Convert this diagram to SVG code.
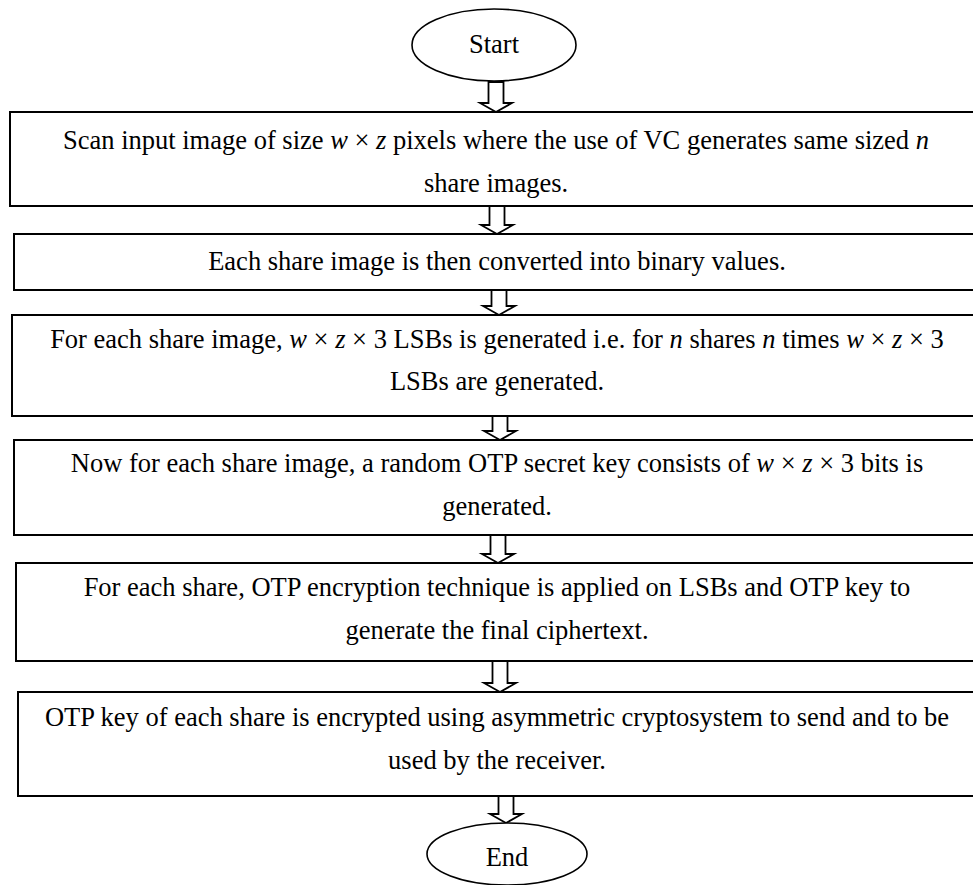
<svg xmlns="http://www.w3.org/2000/svg" width="973" height="885" viewBox="0 0 973 885">
  <style>
    .box { fill: #ffffff; stroke: #000000; stroke-width: 2; }
    .term { fill: #ffffff; stroke: #000000; stroke-width: 1.6; }
    .arrow { fill: #ffffff; stroke: #000000; stroke-width: 1.8; stroke-linejoin: miter; }
    text { font-family: "Liberation Serif", "Times New Roman", serif; font-size: 26.5px; fill: #000000; text-anchor: middle; }
    .i { font-style: italic; }
  </style>
  <rect width="973" height="885" fill="#ffffff"/>

  <!-- hollow block arrows between steps -->
  <g id="connectors">
    <path class="arrow" d="M488.5,82 V103 H480 L496,112 L512,103 H503.5 V82 Z"/>
    <path class="arrow" d="M489.5,206 V225 H481 L497,234 L513,225 H504.5 V206 Z"/>
    <path class="arrow" d="M491.5,290 V306 H483 L499,315 L515,306 H506.5 V290 Z"/>
    <path class="arrow" d="M492.5,416 V431 H484 L500,440 L516,431 H507.5 V416 Z"/>
    <path class="arrow" d="M490.5,535 V554 H482 L498,563 L514,554 H505.5 V535 Z"/>
    <path class="arrow" d="M492.5,661 V683 H484 L500,692 L516,683 H507.5 V661 Z"/>
    <path class="arrow" d="M498.5,796 V814 H490 L506,823 L522,814 H513.5 V796 Z"/>
  </g>

  <g id="start">
    <ellipse class="term" cx="494" cy="45" rx="82" ry="36"/>
    <text x="494" y="53">Start</text>
  </g>

  <g id="step1">
    <rect class="box" x="10" y="112" width="980" height="94"/>
    <text x="496" y="149">Scan input image of size <tspan class="i">w</tspan> × <tspan class="i">z</tspan> pixels where the use of VC generates same sized <tspan class="i">n</tspan></text>
    <text x="496" y="192">share images.</text>
  </g>

  <g id="step2">
    <rect class="box" x="14" y="234" width="976" height="56"/>
    <text x="497" y="270">Each share image is then converted into binary values.</text>
  </g>

  <g id="step3">
    <rect class="box" x="12" y="315" width="978" height="101"/>
    <text x="497" y="348">For each share image, <tspan class="i">w</tspan> × <tspan class="i">z</tspan> × 3 LSBs is generated i.e. for <tspan class="i">n</tspan> shares <tspan class="i">n</tspan> times <tspan class="i">w</tspan> × <tspan class="i">z</tspan> × 3</text>
    <text x="497" y="390">LSBs are generated.</text>
  </g>

  <g id="step4">
    <rect class="box" x="14" y="440" width="976" height="95"/>
    <text x="497" y="472">Now for each share image, a random OTP secret key consists of <tspan class="i">w</tspan> × <tspan class="i">z</tspan> × 3 bits is</text>
    <text x="497" y="515">generated.</text>
  </g>

  <g id="step5">
    <rect class="box" x="16" y="563" width="974" height="98"/>
    <text x="497" y="596">For each share, OTP encryption technique is applied on LSBs and OTP key to</text>
    <text x="497" y="639">generate the final ciphertext.</text>
  </g>

  <g id="step6">
    <rect class="box" x="18" y="692" width="972" height="104"/>
    <text x="497" y="726">OTP key of each share is encrypted using asymmetric cryptosystem to send and to be</text>
    <text x="497" y="769">used by the receiver.</text>
  </g>

  <g id="end">
    <ellipse class="term" cx="507" cy="854" rx="80" ry="31"/>
    <text x="507" y="866">End</text>
  </g>
</svg>
